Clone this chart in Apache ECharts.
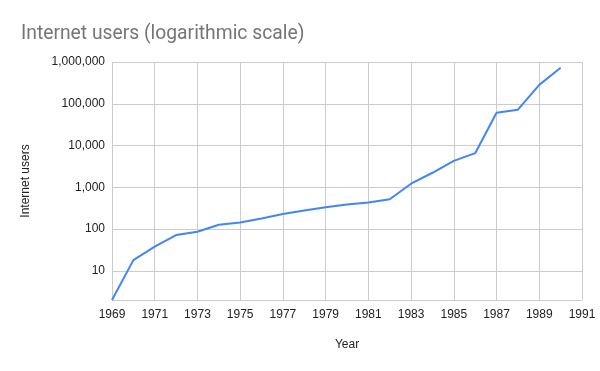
<!DOCTYPE html>
<html><head><meta charset="utf-8">
<script src="https://cdn.jsdelivr.net/npm/echarts@6/dist/echarts.min.js"></script>
<style>html,body{margin:0;padding:0;background:#fff}#c{width:600px;height:371px}</style>
</head><body><div id="c"></div>
<script>
const years = ['1969','1970','1971','1972','1973','1974','1975','1976','1977','1978','1979','1980','1981','1982','1983','1984','1985','1986','1987','1988','1989','1990','1991'];
const users = [2, 18, 38, 72, 86, 127, 144, 179, 228, 277, 334, 385, 430, 518, 1218, 2227, 4300, 6560, 61100, 72000, 283000, 731000, null];
const chart = echarts.init(document.getElementById('c'));
const fmt = v => {
  const e = Math.log10(v);
  if (Math.abs(e - Math.round(e)) > 1e-6 || v < 10) return '';
  return Math.round(v).toLocaleString('en-US');
};
chart.setOption({
  animation: false,
  title: {text: 'Internet users (logarithmic scale)', left: 16, top: 20,
    textStyle: {fontFamily: 'Roboto', fontSize: 19.3, fontWeight: 'normal', color: '#757575'}},
  grid: {left: 112, right: 18, top: 62, bottom: 71, containLabel: false},
  xAxis: {type: 'category', data: years, boundaryGap: false,
    name: 'Year', nameLocation: 'middle', nameGap: 39,
    nameTextStyle: {fontFamily: 'Liberation Sans', fontSize: 12, color: '#222'},
    axisLine: {show: false}, axisTick: {show: false},
    axisLabel: {interval: 1, margin: 9, fontFamily: 'Liberation Sans', fontSize: 12, color: '#222'},
    splitLine: {show: true, interval: 1, lineStyle: {color: '#cccccc', width: 1}}},
  yAxis: {type: 'log', logBase: 10, min: 2, max: 1000000,
    name: 'Internet users', nameLocation: 'middle', nameGap: 80, nameRotate: 90,
    nameTextStyle: {fontFamily: 'Liberation Sans', fontSize: 12, color: '#222'},
    axisLine: {show: false}, axisTick: {show: false},
    axisLabel: {margin: 7, fontFamily: 'Liberation Sans', fontSize: 12, color: '#222', formatter: fmt},
    splitLine: {show: true, lineStyle: {color: '#cccccc', width: 1}}},
  series: [{type: 'line', data: users, showSymbol: false, symbol: 'none',
    lineStyle: {color: '#4285F4', width: 2}, itemStyle: {color: '#4285F4'}}]
});
</script></body></html>
